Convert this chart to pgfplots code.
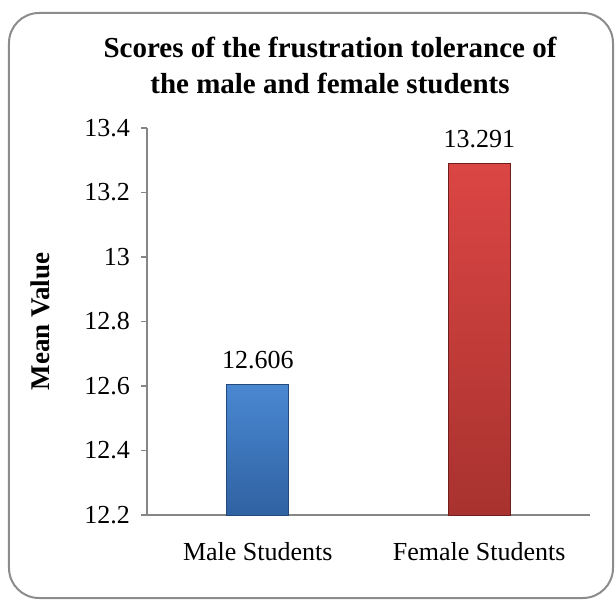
\documentclass[border=0pt]{standalone}
\usepackage{fontspec}
\setmainfont{Liberation Serif}
\usepackage{pgfplots}
\pgfplotsset{compat=1.18}
\definecolor{axisgray}{HTML}{868686}
\definecolor{frameg}{HTML}{8C8C8C}
\definecolor{bluetop}{HTML}{4A88D2}
\definecolor{bluebot}{HTML}{2F62A2}
\definecolor{blueedge}{HTML}{24497A}
\definecolor{redtop}{HTML}{DB4644}
\definecolor{redbot}{HTML}{A8322F}
\definecolor{rededge}{HTML}{6E1E1C}
\begin{document}
\begin{tikzpicture}
\path (-73.5pt,-43pt) rectangle (234pt,257.5pt);
\begin{axis}[
  scale only axis, width=221.5pt, height=193.5pt,
  xmin=-0.5, xmax=1.5, ymin=12.2, ymax=13.4,
  ytick={12.2,12.4,12.6,12.8,13,13.2,13.4},
  xtick={0,1}, xticklabels={Male Students, Female Students},
  extra x ticks={-0.5,0.5,1.5}, extra x tick labels={},
  extra x tick style={major tick length=4pt, tick style={axisgray, line width=0.6pt}},
  axis x line*=bottom, axis y line*=left,
  axis line style={axisgray, line width=0.8pt},
  tick align=outside,
  major tick length=3pt,
  ytick style={axisgray, line width=0.6pt},
  xtick style={draw=none},
  /pgf/number format/assume math mode=true,
  tick label style={font=\fontsize{13}{15.6}\selectfont, text=black},
  xticklabel style={yshift=-7pt},
  yticklabel style={xshift=-2pt},
  ylabel={\bfseries Mean Value},
  every axis y label/.style={at={(axis description cs:0,0.5)}, xshift=-53.5pt, rotate=90, anchor=center, font=\fontsize{13.5}{16}\selectfont},
  ybar, bar width=31pt,
  nodes near coords={\pgfmathprintnumber[fixed, precision=3]{\pgfplotspointmeta}},
  every node near coord/.append style={font=\fontsize{13}{15.6}\selectfont, text=black, yshift=4pt},
]
\addplot[ybar, bar shift=0pt, draw=blueedge, line width=0.5pt, top color=bluetop, bottom color=bluebot] coordinates {(0,12.606)};
\addplot[ybar, bar shift=0pt, draw=rededge, line width=0.5pt, top color=redtop, bottom color=redbot] coordinates {(1,13.291)};
\end{axis}
\node[align=center, font=\bfseries\fontsize{14.5}{18}\selectfont] at (91.5pt,225pt) {Scores of the frustration tolerance of\\the male and female students};
\draw[frameg, line width=1pt, rounded corners=15pt] (-69pt,-41.5pt) rectangle (233pt,251pt);
\end{tikzpicture}
\end{document}
